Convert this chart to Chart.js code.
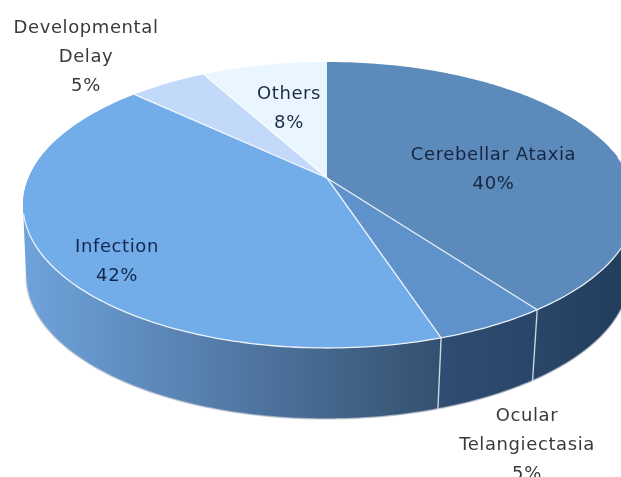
<!DOCTYPE html>
<html>
<head>
<meta charset="utf-8">
<style>html,body{margin:0;padding:0;background:#fff;overflow:hidden}canvas{display:block}</style>
<script src="https://cdn.jsdelivr.net/npm/chart.js@4"></script>
</head>
<body>
<canvas id="c" width="621" height="477"></canvas>
<script>
const categories = ["Cerebellar Ataxia", "Ocular Telangiectasia", "Infection", "Developmental Delay", "Others"];
const values = [40, 5, 42, 5, 8];
const topColors = ["#5b8abb", "#5f92cb", "#72ace9", "#c3d9fa", "#e9f6ff"];
const sideLeftColors = ["#2a4768", "#2f4e72", "#6fa3dc", "#6fa3dc", "#6fa3dc"];
const sideRightColors = ["#213c5b", "#29456a", "#34506f", "#34506f", "#34506f"];
const labelLines = [
  ["Cerebellar Ataxia", "40%"],
  ["Ocular", "Telangiectasia", "5%"],
  ["Infection", "42%"],
  ["Developmental", "Delay", "5%"],
  ["Others", "8%"]
];
const labelColors = ["#16263f", "#3a3a3a", "#14284e", "#3a3a3a", "#1c2a44"];
const labelAnchors = [[493.5,155],[527,416],[117,247],[86,28],[289,94]];

const view = {cx:327, cy:178, aL:298.5, aR:303, b:137.9, k:0.1888, depth:71, shrink:0.985, dx:-1.5};
function proj(theta, r){
  const x = Math.sin(theta)*r, y = -Math.cos(theta)*r;
  const w = 1 - view.k*y;
  return [view.cx + (x>0?view.aR:view.aL)*x/w, view.cy + view.b*y/w];
}
function lower(p){ return [view.cx + (p[0]-view.cx)*view.shrink + view.dx, p[1]+view.depth]; }
function angles(el){
  const p = el.getProps(['startAngle','endAngle'], true);
  return [p.startAngle + Math.PI/2, p.endAngle + Math.PI/2];
}
function rimPts(t0,t1){
  const n = Math.max(2, Math.ceil(Math.abs(t1-t0)/(Math.PI/180))), pts=[];
  for(let i=0;i<=n;i++) pts.push(proj(t0+(t1-t0)*i/n,1));
  return pts;
}
function addQuad(ctx,q){
  let area=0;
  q.forEach((p,i)=>{const n=q[(i+1)%4]; area+=p[0]*n[1]-n[0]*p[1];});
  const o = area<0 ? q.slice().reverse() : q;
  o.forEach((p,i)=> i?ctx.lineTo(p[0],p[1]):ctx.moveTo(p[0],p[1]));
  ctx.closePath();
}
const pie3d = {
  id:'pie3d',
  beforeDatasetDraw(chart, args){
    const ctx = chart.ctx, arcs = chart.getDatasetMeta(args.index).data;
    ctx.save();
    [0,1,2,3,4].forEach(i=>{
      const [t0,t1] = angles(arcs[i]);
      const clip0 = Math.max(t0, Math.PI*0.45), clip1 = Math.min(t1, Math.PI*1.6);
      if(clip1<=clip0) return;
      const pts = rimPts(clip0,clip1), low = pts.map(lower);
      const xs = pts.concat(low).map(p=>p[0]);
      const minX=Math.min(...xs), maxX=Math.max(...xs);
      const g = ctx.createLinearGradient(minX,0,maxX,0);
      g.addColorStop(0, sideLeftColors[i]);
      g.addColorStop(1, sideRightColors[i]);
      // one path holding every strip, all wound the same way, so there are no seams
      ctx.beginPath();
      for(let j=0;j<pts.length-1;j++) addQuad(ctx,[pts[j],pts[j+1],low[j+1],low[j]]);
      ctx.fillStyle=g; ctx.fill('nonzero');
      const edge = rimPts(clip0,Math.min(clip1,Math.PI*1.44)).map(lower);
      ctx.beginPath();
      edge.forEach((p,j)=> j?ctx.lineTo(p[0],p[1]):ctx.moveTo(p[0],p[1]));
      ctx.strokeStyle='rgba(190,195,205,0.7)'; ctx.lineWidth=1.5; ctx.stroke();
      if(t0>Math.PI*0.45 && t0<Math.PI*1.6){
        const p=proj(t0,1), q=lower(p);
        ctx.beginPath(); ctx.moveTo(p[0],p[1]); ctx.lineTo(q[0],q[1]);
        ctx.strokeStyle='rgba(225,230,238,0.85)'; ctx.lineWidth=1.4; ctx.stroke();
      }
    });
    arcs.forEach((el,i)=>{
      const [t0,t1] = angles(el);
      const pts = rimPts(t0,t1);
      ctx.beginPath(); ctx.moveTo(view.cx,view.cy);
      pts.forEach(p=>ctx.lineTo(p[0],p[1]));
      ctx.closePath();
      ctx.fillStyle = el.options.backgroundColor; ctx.fill();
    });
    ctx.strokeStyle='rgba(255,255,255,0.85)'; ctx.lineWidth=1.3;
    arcs.forEach((el,i)=>{
      const [t0,t1] = angles(el);
      const p=proj(t0,1);
      if(i>0){ ctx.beginPath(); ctx.moveTo(view.cx,view.cy); ctx.lineTo(p[0],p[1]); ctx.stroke(); }
      const a0=Math.max(t0,Math.PI*0.45), a1=Math.min(t1,Math.PI*1.42);
      if(a1>a0){
        ctx.beginPath();
        rimPts(a0,a1).forEach((q,j)=> j?ctx.lineTo(q[0],q[1]):ctx.moveTo(q[0],q[1]));
        ctx.stroke();
      }
    });
    ctx.restore();
    return false;
  },
  afterDraw(chart){
    const ctx = chart.ctx;
    ctx.save();
    ctx.font = '18px "DejaVu Sans"';
    ctx.letterSpacing = '0.6px';
    ctx.filter = 'blur(0.4px)';
    ctx.textAlign='center'; ctx.textBaseline='middle';
    labelLines.forEach((lines,i)=>{
      ctx.fillStyle=labelColors[i];
      lines.forEach((t,j)=>ctx.fillText(t,labelAnchors[i][0],labelAnchors[i][1]+j*29));
    });
    ctx.restore();
  }
};
new Chart(document.getElementById('c'),{
  type:'pie',
  data:{labels:categories,datasets:[{data:values,backgroundColor:topColors,borderWidth:0}]},
  options:{responsive:false,animation:false,
    plugins:{legend:{display:false},tooltip:{enabled:false}}},
  plugins:[pie3d]
});
</script>
</body>
</html>
